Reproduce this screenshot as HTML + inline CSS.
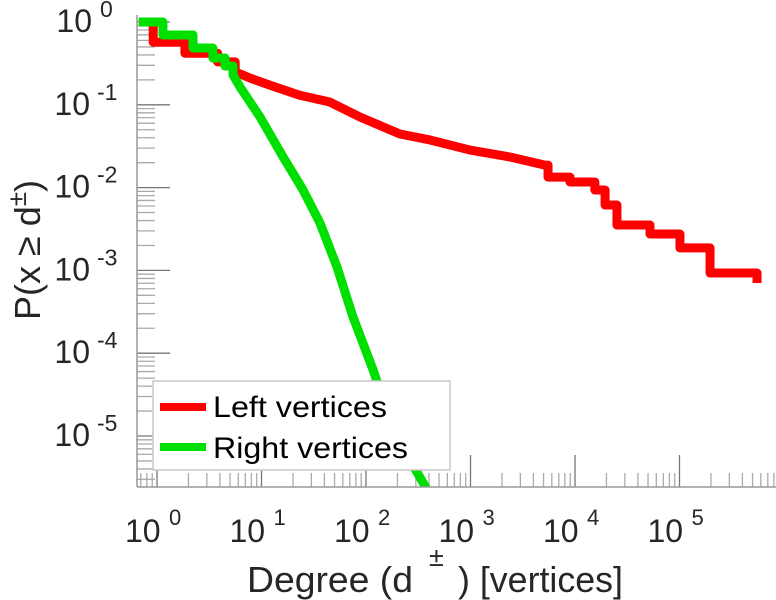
<!DOCTYPE html>
<html><head><meta charset="utf-8"><style>
body{margin:0;background:#fff}
svg{display:block;font-family:"Liberation Sans",sans-serif}
</style></head><body>
<svg id="chart" width="776" height="600" viewBox="0 0 776 600">
<defs><clipPath id="clip"><rect x="137" y="10" width="639" height="477"/></clipPath></defs>
<g id="ticks"></g>
<g id="series" clip-path="url(#clip)"></g>
<line x1="137" y1="15" x2="137" y2="487" stroke="#999" stroke-width="1.5"/>
<line x1="137" y1="487" x2="776" y2="487" stroke="#999" stroke-width="1.5"/>
<g id="labels" fill="#262626"></g>
<text transform="translate(40,250) rotate(-90)" text-anchor="middle" font-size="36" fill="#262626">P(x ≥ d<tspan dy="-14" font-size="26">±</tspan><tspan dy="14">)</tspan></text>
<g fill="#262626">
<text x="247" y="592" font-size="36" textLength="166" lengthAdjust="spacingAndGlyphs">Degree (d</text>
<text x="429" y="566" font-size="27">±</text>
<text x="458" y="592" font-size="36" textLength="165" lengthAdjust="spacingAndGlyphs">) [vertices]</text>
</g>
<g>
<rect x="153" y="381" width="297" height="89" fill="#fff" stroke="#c8c8c8" stroke-width="1.5"/>
<line x1="160" y1="407" x2="206" y2="407" stroke="#ff0000" stroke-width="8"/>
<text x="213" y="417" font-size="30" textLength="174" lengthAdjust="spacingAndGlyphs" fill="#000">Left vertices</text>
<line x1="160" y1="447" x2="206" y2="447" stroke="#00e000" stroke-width="8"/>
<text x="213" y="458" font-size="30" textLength="195" lengthAdjust="spacingAndGlyphs" fill="#000">Right vertices</text>
</g>
</svg>
<script>
const leftDegree=[0.67,0.92,1.85,3.8,5.6,7.8,12,23,45,88,211,410,990,2390,5160,5520,8950,15500,19400,25200,25200,52200,101000,196000,552000,552000];
const leftProb=[1.0,0.57,0.42,0.33,0.25,0.21,0.173,0.131,0.108,0.071,0.0444,0.0376,0.0284,0.0234,0.0187,0.0134,0.0117,0.00935,0.00616,0.00442,0.00353,0.00275,0.00187,0.00093,0.00093,0.000705];
const rightDegree=[0.67,1.14,2.21,3.43,4.48,5.34,6.23,9.68,16.1,25.0,36.3,52.8,75.1,117,170,264,438];
const rightProb=[1.0,0.697,0.485,0.367,0.294,0.229,0.164,0.0713,0.0234,0.00935,0.00373,0.0011,0.000274,6.27e-5,1.56e-5,5.1e-6,1.69e-6];
const xDecades=[0,1,2,3,4,5];
const yDecades=[0,-1,-2,-3,-4,-5];
const NS='http://www.w3.org/2000/svg';
function X(d){return 157+104.5*Math.log10(d);}
function Y(p){return 22-82.8*Math.log10(p);}
function mk(tag,attrs,parent){const e=document.createElementNS(NS,tag);for(const k in attrs)e.setAttribute(k,attrs[k]);parent.appendChild(e);return e;}
const ticks=document.getElementById('ticks'),labels=document.getElementById('labels'),series=document.getElementById('series');
for(let e=-1;e<=5;e++){for(let k=1;k<=9;k++){const v=k*Math.pow(10,e);const px=X(v);if(px<137||px>776)continue;
 const t=mk('line',{x1:px,x2:px,y1:k===1?455:473,y2:487,stroke:k===1?'#777':'#aaa','stroke-width':1.3},ticks);
 
 }}
for(let e=-6;e<=0;e++){for(let k=1;k<=9;k++){const v=k*Math.pow(10,e);const py=Y(v);if(py<15||py>487)continue;
 const t=mk('line',{x1:137,x2:k===1?170:155,y1:py,y2:py,stroke:k===1?'#777':'#aaa','stroke-width':1.3},ticks);
 
 }}
xDecades.forEach(e=>{const px=X(Math.pow(10,e));
 const g=mk('text',{x:px-32,y:542,'font-size':32},labels);g.textContent='10';
 
 
 const s=mk('text',{x:px+12,y:525,'font-size':22},labels);s.textContent=String(e);
 
 });
yDecades.forEach(e=>{const py=Y(Math.pow(10,e));
 const g=mk('text',{x:e===0?92:90,y:py+10,'font-size':32,'text-anchor':'end'},labels);g.textContent='10';
 
 
 const s=mk('text',{x:e===0?100:97,y:py-5,'font-size':23},labels);s.textContent=String(e);
 
 });
function stepPath(ds,ps,smoothFrom,smoothTo){let d='M'+X(ds[0])+','+Y(ps[0]);
 for(let i=1;i<ds.length;i++){if(i>smoothFrom&&i<=smoothTo)d+=' L'+X(ds[i])+','+Y(ps[i]);else d+=' H'+X(ds[i])+' V'+Y(ps[i]);}return d;}
const red=mk('path',{d:stepPath(leftDegree,leftProb,4,14),fill:'none',stroke:'#ff0000','stroke-width':9,'stroke-linejoin':'round'},series);


const green=mk('path',{d:stepPath(rightDegree,rightProb,5,999),fill:'none',stroke:'#00e000','stroke-width':9,'stroke-linejoin':'round'},series);


</script>
</body></html>
